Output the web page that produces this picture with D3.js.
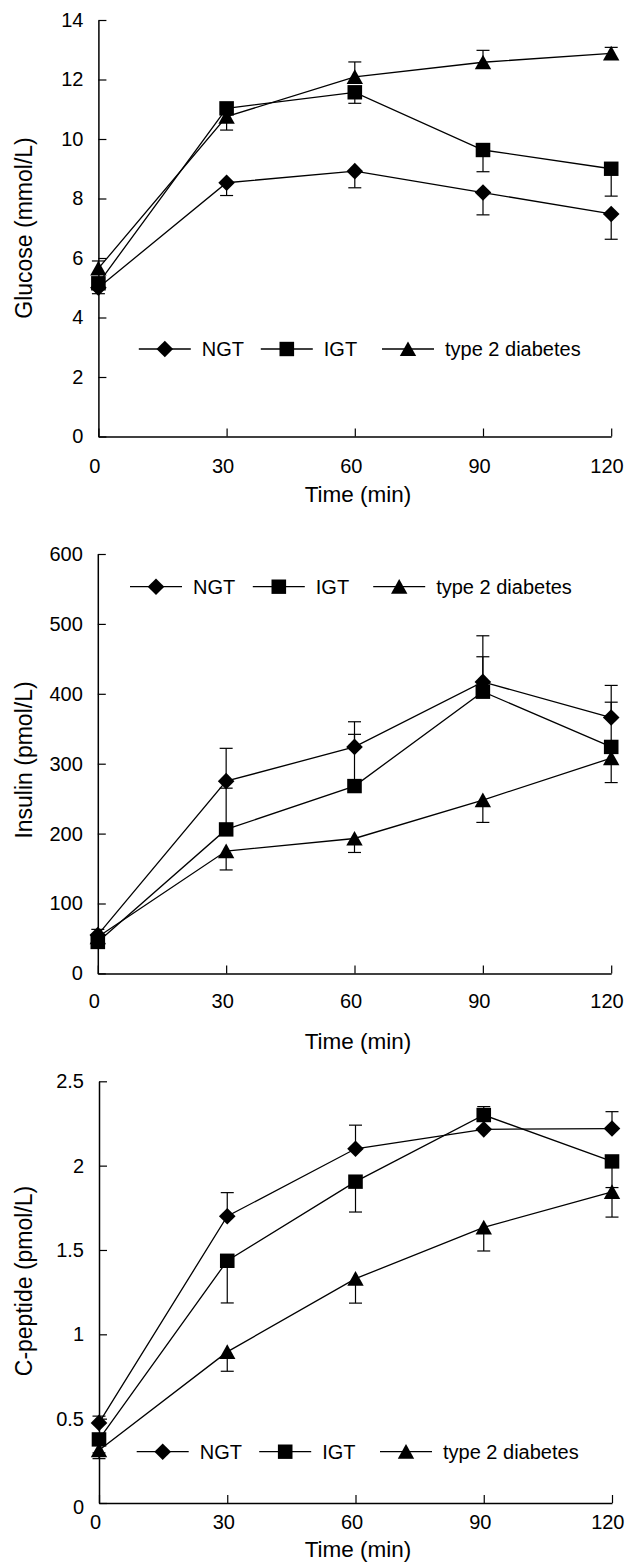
<!DOCTYPE html>
<html><head><meta charset="utf-8">
<script src="https://cdn.jsdelivr.net/npm/d3@7"></script>
<style>
body{margin:0;background:#fff}
svg{display:block}
text{font-family:"Liberation Sans",Arial,sans-serif;fill:#000}
</style>
</head><body>
<svg id="c" width="625" height="1564"></svg>
<script>
// ---------- DATA ----------
const times = [0, 30, 60, 90, 120];
const timeTicks = [0, 30, 60, 90, 120];
const seriesNames = ["NGT", "IGT", "type 2 diabetes"];

// Glucose (mmol/L); error values signed: + drawn upward, - drawn downward
const glucoseNGT    = [5.0, 8.53, 8.92, 8.2, 7.48];
const glucoseNGTErr = [-0.2, -0.43, -0.56, -0.75, -0.85];
const glucoseIGT    = [5.15, 11.03, 11.57, 9.63, 9.0];
const glucoseIGTErr = [-0.2, 0, -0.37, -0.73, -0.92];
const glucoseT2D    = [5.65, 10.75, 12.09, 12.58, 12.88];
const glucoseT2DErr = [0.25, -0.45, 0.5, 0.4, 0.2];
const glucoseTicks  = [0, 2, 4, 6, 8, 10, 12, 14];

// Insulin (pmol/L)
const insulinNGT    = [55, 275, 324, 417, 366];
const insulinNGTErr = [8, 47, 36, 66, 46];
const insulinIGT    = [45, 206, 268, 403, 324];
const insulinIGTErr = [0, 59, 74, 50, 64];
const insulinT2D    = [52, 175, 193, 248, 308];
const insulinT2DErr = [0, -27, -20, -32, -35];
const insulinTicks  = [0, 100, 200, 300, 400, 500, 600];

// C-peptide (pmol/L)
const cpepNGT    = [0.475, 1.70, 2.10, 2.215, 2.22];
const cpepNGTErr = [0.04, 0.14, 0.14, 0, 0.1];
const cpepIGT    = [0.377, 1.436, 1.905, 2.30, 2.025];
const cpepIGTErr = [-0.08, -0.25, -0.18, 0.05, -0.155];
const cpepT2D    = [0.313, 0.896, 1.33, 1.634, 1.845];
const cpepT2DErr = [-0.05, -0.115, -0.145, -0.14, -0.15];
const cpepTicks  = [0, 0.5, 1, 1.5, 2, 2.5];
const cpepTickLabels = ["0", "0.5", "1", "1.5", "2", "2.5"];

// ---------- LAYOUT ----------
const svg = d3.select("#c");
const panels = [
  {title:"Glucose (mmol/L)", series:[[glucoseNGT,glucoseNGTErr],[glucoseIGT,glucoseIGTErr],[glucoseT2D,glucoseT2DErr]],
   ticks:glucoseTicks, labels:glucoseTicks.map(String), domain:[0,14],
   x0:98.4, x1:611.2, yTop:20, yBot:436.5, xPad:22.3, xTitleY:502, xTitleX:358, yTitleY:228,
   legY:349, legX:[138.8,260.8,382]},
  {title:"Insulin (pmol/L)", series:[[insulinNGT,insulinNGTErr],[insulinIGT,insulinIGTErr],[insulinT2D,insulinT2DErr]],
   ticks:insulinTicks, labels:insulinTicks.map(String), domain:[0,600],
   x0:97.8, x1:611.2, yTop:554, yBot:973.4, xPad:20.8, xTitleY:1048.5, xTitleX:358, yTitleY:760,
   legY:586.7, legX:[130,252.8,373.2]},
  {title:"C-peptide (pmol/L)", series:[[cpepNGT,cpepNGTErr],[cpepIGT,cpepIGTErr],[cpepT2D,cpepT2DErr]],
   ticks:cpepTicks, labels:cpepTickLabels, domain:[0,2.5],
   x0:99, x1:612, yTop:1081.3, yBot:1503, xPad:11.8, xTitleY:1557, xTitleX:358, yTitleY:1281,
   legY:1451.7, legX:[136.7,259.2,380], zeroDy:4}
];

const markerPaths = [
  "M0,-8.3L8.3,0L0,8.3L-8.3,0Z",
  "M-7.3,-7.2H7.3V7.2H-7.3Z",
  "M0,-7.6L8.2,7.1L-8.2,7.1Z"
];
const FS = 20;

panels.forEach(p => {
  const x = d3.scaleLinear().domain([0,120]).range([p.x0, p.x1]);
  const y = d3.scaleLinear().domain(p.domain).range([p.yBot, p.yTop]);
  const g = svg.append("g");

  // axes
  const ya = g.append("g").attr("transform", `translate(${p.x0},0)`)
    .call(d3.axisLeft(y).tickValues(p.ticks).tickFormat((d,i)=>p.labels[i]).tickSizeInner(-8).tickSizeOuter(0).tickPadding(15));
  const xa = g.append("g").attr("transform", `translate(0,${p.yBot})`)
    .call(d3.axisBottom(x).tickValues(timeTicks).tickSizeInner(-8).tickSizeOuter(0).tickPadding(p.xPad));
  [ya, xa].forEach(a => {
    a.select(".domain").attr("stroke","#000").attr("stroke-width",1.5);
    a.selectAll(".tick line").attr("stroke","#000").attr("stroke-width",1.2);
    a.selectAll(".tick text").attr("font-size",FS).attr("fill","#000").attr("font-family",'"Liberation Sans",Arial,sans-serif');
  });
  xa.selectAll(".tick text").attr("dx",-4);
  xa.selectAll(".tick text").filter(d=>d===120).attr("text-anchor","end").attr("dx",12);
  if (p.zeroDy) ya.selectAll(".tick text").filter(d=>d===0).attr("transform",`translate(0,${p.zeroDy})`);

  // lines
  const line = d3.line().x((d,i)=>x(times[i])).y(d=>y(d));
  p.series.forEach(([vals]) => {
    g.append("path").attr("d", line(vals)).attr("fill","none").attr("stroke","#000").attr("stroke-width",1.3);
  });
  // error bars
  p.series.forEach(([vals, errs]) => {
    vals.forEach((v,i) => {
      const e = errs[i];
      if (!e) return;
      const xi = x(times[i]), y0 = y(v), y1 = y(v+e);
      g.append("line").attr("x1",xi).attr("x2",xi).attr("y1",y0).attr("y2",y1).attr("stroke","#000").attr("stroke-width",1.2);
      g.append("line").attr("x1",xi-6.5).attr("x2",xi+6.5).attr("y1",y1).attr("y2",y1).attr("stroke","#000").attr("stroke-width",1.2);
    });
  });
  // markers
  p.series.forEach(([vals], si) => {
    g.selectAll(null).data(vals).enter().append("path")
      .attr("d", markerPaths[si])
      .attr("transform",(d,i)=>`translate(${x(times[i])},${y(d)})`)
      .attr("fill","#000");
  });

  // legend
  seriesNames.forEach((name, si) => {
    const lx = p.legX[si];
    g.append("line").attr("x1",lx).attr("x2",lx+52).attr("y1",p.legY).attr("y2",p.legY).attr("stroke","#000").attr("stroke-width",1.3);
    g.append("path").attr("d",markerPaths[si]).attr("transform",`translate(${lx+26},${p.legY})`).attr("fill","#000");
    g.append("text").attr("x",lx+63).attr("y",p.legY).attr("dy","0.36em").attr("font-size",FS).text(name);
  });

  // titles
  g.append("text").attr("x",p.xTitleX).attr("y",p.xTitleY).attr("text-anchor","middle").attr("font-size",22.5).text("Time (min)");
  g.append("text").attr("transform",`translate(32,${p.yTitleY}) rotate(-90)`).attr("text-anchor","middle").attr("font-size",23).text(p.title);
});
</script>
</body></html>
